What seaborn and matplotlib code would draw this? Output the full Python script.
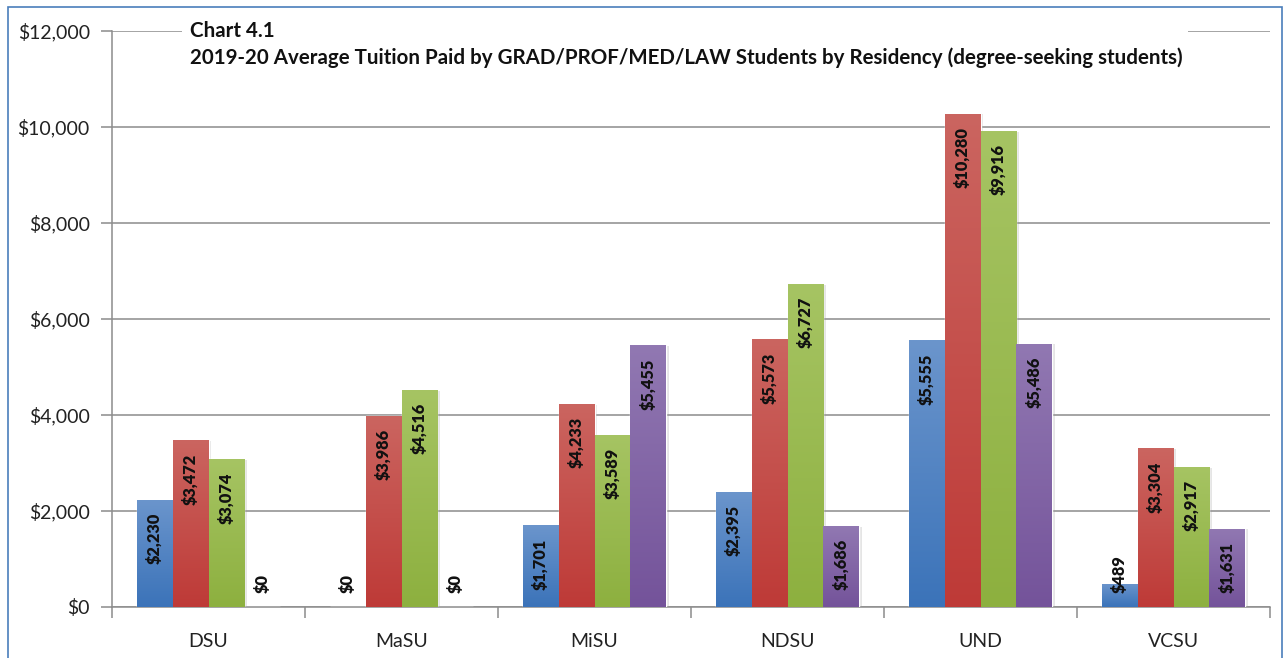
import numpy as np
import pandas as pd
import matplotlib
matplotlib.use("Agg")
import matplotlib.pyplot as plt
import matplotlib.patheffects as pe
from matplotlib.patches import Rectangle
from matplotlib.colors import to_rgb
import seaborn as sns

# ---- data ----
institutions = ["DSU", "MaSU", "MiSU", "NDSU", "UND", "VCSU"]
series_names = ["Resident", "Non-Resident", "MN Reciprocity", "Other Reciprocity"]
resident = [2230, 0, 1701, 2395, 5555, 489]
non_resident = [3472, 3986, 4233, 5573, 10280, 3304]
mn_reciprocity = [3074, 4516, 3589, 6727, 9916, 2917]
other_reciprocity = [0, 0, 5455, 1686, 5486, 1631]
y_ticks = [0, 2000, 4000, 6000, 8000, 10000, 12000]
title_line1 = "Chart 4.1"
title_line2 = "2019-20 Average Tuition Paid by GRAD/PROF/MED/LAW Students by Residency (degree-seeking students)"

series_values = [resident, non_resident, mn_reciprocity, other_reciprocity]
df = pd.DataFrame({
    "institution": np.repeat([institutions], len(series_names), axis=0).ravel(),
    "residency": np.repeat(series_names, len(institutions)),
    "tuition": np.concatenate(series_values),
})

base_colors = ["#3B73B9", "#BE3A37", "#8DB03F", "#74539A"]
top_colors = ["#6B95CC", "#CB6560", "#A6C463", "#9178B2"]

sns.set_theme(style="white")
plt.rcParams["font.family"] = ["Lato", "DejaVu Sans"]

W, H = 1284, 658
fig = plt.figure(figsize=(W / 100, H / 100), dpi=100)
ax = fig.add_axes([112 / W, 1 - 607 / H, (1270 - 112) / W, (607 - 31) / H])

sns.barplot(data=df, x="institution", y="tuition", hue="residency",
            order=institutions, hue_order=series_names,
            palette=base_colors, width=0.746, gap=0, legend=False,
            saturation=1, ax=ax, errorbar=None, zorder=3)

ax.set_xlim(-0.5, len(institutions) - 0.5)
ax.set_ylim(0, 12000)

# gradient fill + soft shadow on bars
for ci, cont in enumerate(ax.containers):
    c_top = np.array(to_rgb(top_colors[ci]))
    c_bot = np.array(to_rgb(base_colors[ci]))
    grad = np.linspace(0, 1, 256)[:, None, None]
    img = c_top * (1 - grad) + c_bot * grad  # row 0 = top
    for p in cont.patches:
        h = p.get_height()
        if h <= 0:
            continue
        p.set_path_effects([pe.SimplePatchShadow(offset=(1.5, -0.5), shadow_rgbFace="#9a9a9a", alpha=0.25),
                            pe.Normal()])
        x0, w = p.get_x(), p.get_width()
        im = ax.imshow(img, extent=[x0, x0 + w, 0, h], aspect="auto",
                       origin="upper", zorder=3.5, interpolation="bilinear")
        im.set_clip_path(p)

ax.set_xlim(-0.5, len(institutions) - 0.5)
ax.set_ylim(0, 12000)

# axes styling
ax.set_yticks(y_ticks)
ax.set_yticklabels([f"${v:,.0f}" for v in y_ticks])
ax.set_xticks(range(len(institutions)))
ax.set_xticklabels(institutions)
ax.set_xlabel("")
ax.set_ylabel("")
ax.grid(axis="y", color="#8c8c8c", linewidth=1.1, zorder=0)
ax.set_axisbelow(True)
for s in ["top", "right"]:
    ax.spines[s].set_visible(False)
for s in ["left", "bottom"]:
    ax.spines[s].set_color("#8c8c8c")
    ax.spines[s].set_linewidth(1.1)
ax.tick_params(axis="y", which="major", length=8, width=1.1, color="#8c8c8c",
               labelsize=14, labelcolor="#222222", pad=8, left=True)
ax.tick_params(axis="x", which="major", length=0, labelsize=14, labelcolor="#222222", pad=19)
ax.set_xticks(np.arange(-0.5, len(institutions)), minor=True)
ax.tick_params(axis="x", which="minor", length=8, width=1.1, color="#8c8c8c", bottom=True)

# value labels
fig.canvas.draw()
renderer = fig.canvas.get_renderer()
base_px = ax.transData.transform((0, 0))[1]
for ci, cont in enumerate(ax.containers):
    for p, v in zip(cont.patches, series_values[ci]):
        xc = p.get_x() + p.get_width() / 2
        lab = f"${v:,.0f}"
        t = ax.annotate(lab, (xc, v), xytext=(0, -13), textcoords="offset pixels",
                        rotation=90, ha="center", va="top", fontsize=11.8,
                        fontweight="heavy", color="#111111", zorder=6)
        bb = t.get_window_extent(renderer)
        if bb.y0 < base_px + 14:
            t.remove()
            ax.annotate(lab, (xc, 0), xytext=(0, 14), textcoords="offset pixels",
                        rotation=90, ha="center", va="bottom", fontsize=11.8,
                        fontweight="heavy", color="#111111", zorder=6)

# title box
fig.patches.append(Rectangle((182 / W, 1 - 74 / H), (1188 - 182) / W, 58 / H,
                             transform=fig.transFigure, facecolor="white",
                             edgecolor="none", zorder=5))
fig.text(190 / W, 1 - 31 / H, title_line1, fontsize=14.8, fontweight="bold",
         color="#111111", va="center", ha="left", zorder=6)
fig.text(190 / W, 1 - 58 / H, title_line2, fontsize=14.8, fontweight="bold",
         color="#111111", va="center", ha="left", zorder=6)

# outer chart border
fig.patches.append(Rectangle((8 / W, -0.05), (1282 - 8) / W, 1.05 - 7 / H,
                             transform=fig.transFigure, facecolor="none",
                             edgecolor="#4a7ebb", linewidth=1.2, zorder=10))

fig.savefig("out.png", dpi=100)
